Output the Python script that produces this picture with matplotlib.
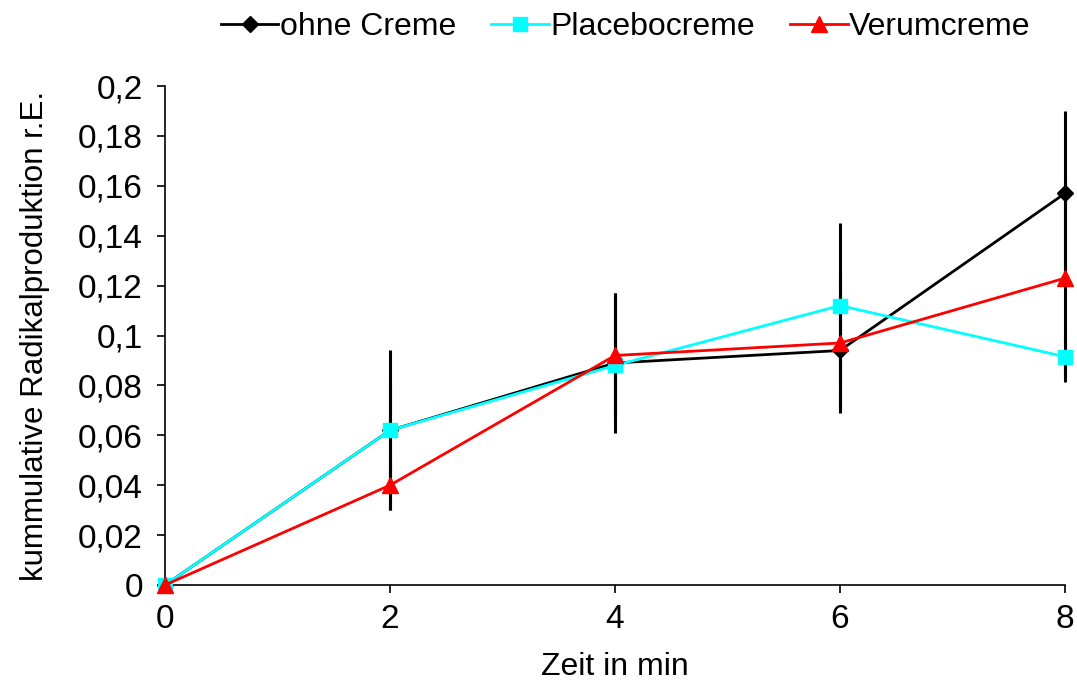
import matplotlib
matplotlib.use("Agg")
import matplotlib.pyplot as plt
from matplotlib.ticker import FuncFormatter, MultipleLocator

plt.rcParams['font.family'] = ['Liberation Sans', 'DejaVu Sans']

# Messzeitpunkte und Mittelwerte der kumulativen Radikalproduktion
zeit = [0, 2, 4, 6, 8]
ohne_creme = [0.0, 0.062, 0.089, 0.094, 0.157]
ohne_creme_err = [0.0, 0.032, 0.028, 0.024, 0.033]
placebo = [0.0, 0.062, 0.088, 0.112, 0.0915]
placebo_err = [0.0, 0.020, 0.020, 0.033, 0.010]
verum = [0.0, 0.040, 0.092, 0.097, 0.123]
verum_err = [0.0, 0.010, 0.025, 0.028, 0.040]

serien = [
    ("ohne Creme", ohne_creme, ohne_creme_err, "black", "D", 8.5),
    ("Placebocreme", placebo, placebo_err, "#00FFFF", "s", 10.5),
    ("Verumcreme", verum, verum_err, "red", "^", 11.5),
]

fig = plt.figure(figsize=(10.77, 6.86), dpi=100)
ax = fig.add_axes([0.1532, 0.1472, 0.8357, 0.7274])

# Fehlerbalken zuerst (schwarz), Linien darüber
for name, werte, fehler, farbe, marker, ms in serien:
    _, _, bars = ax.errorbar(zeit, werte, yerr=fehler, fmt="none",
                             ecolor="black", elinewidth=2.2, capsize=0,
                             zorder=2)
    for b in bars:
        b.set_clip_on(False)
for name, werte, fehler, farbe, marker, ms in serien:
    ax.plot(zeit, werte, color=farbe, marker=marker, markersize=ms,
            linewidth=2.0, label=name, zorder=3, clip_on=False)

ax.set_xlim(0, 8)
ax.set_ylim(0, 0.2)
ax.xaxis.set_major_locator(MultipleLocator(2))
ax.yaxis.set_major_locator(MultipleLocator(0.02))

def komma(v, pos):
    return ("%g" % round(v, 4)).replace(".", ",")

ax.yaxis.set_major_formatter(FuncFormatter(komma))
ax.xaxis.set_major_formatter(FuncFormatter(komma))

for s in ("top", "right"):
    ax.spines[s].set_visible(False)
for s in ("left", "bottom"):
    ax.spines[s].set_linewidth(1.2)
ax.tick_params(axis="both", labelsize=24, length=6, width=1.2, direction="out")
ax.tick_params(axis="y", pad=10)
ax.tick_params(axis="x", pad=8)

ax.set_xlabel("Zeit in min", fontsize=23, labelpad=12)
ax.set_ylabel("kummulative Radikalproduktion r.E.", fontsize=22.5, labelpad=20)

ax.legend(loc="lower center", bbox_to_anchor=(0.512, 1.062), ncol=3,
          frameon=False, fontsize=23, handlelength=1.8, handletextpad=0.05,
          columnspacing=1.1, borderaxespad=0)

fig.savefig("out.png", dpi=100)
